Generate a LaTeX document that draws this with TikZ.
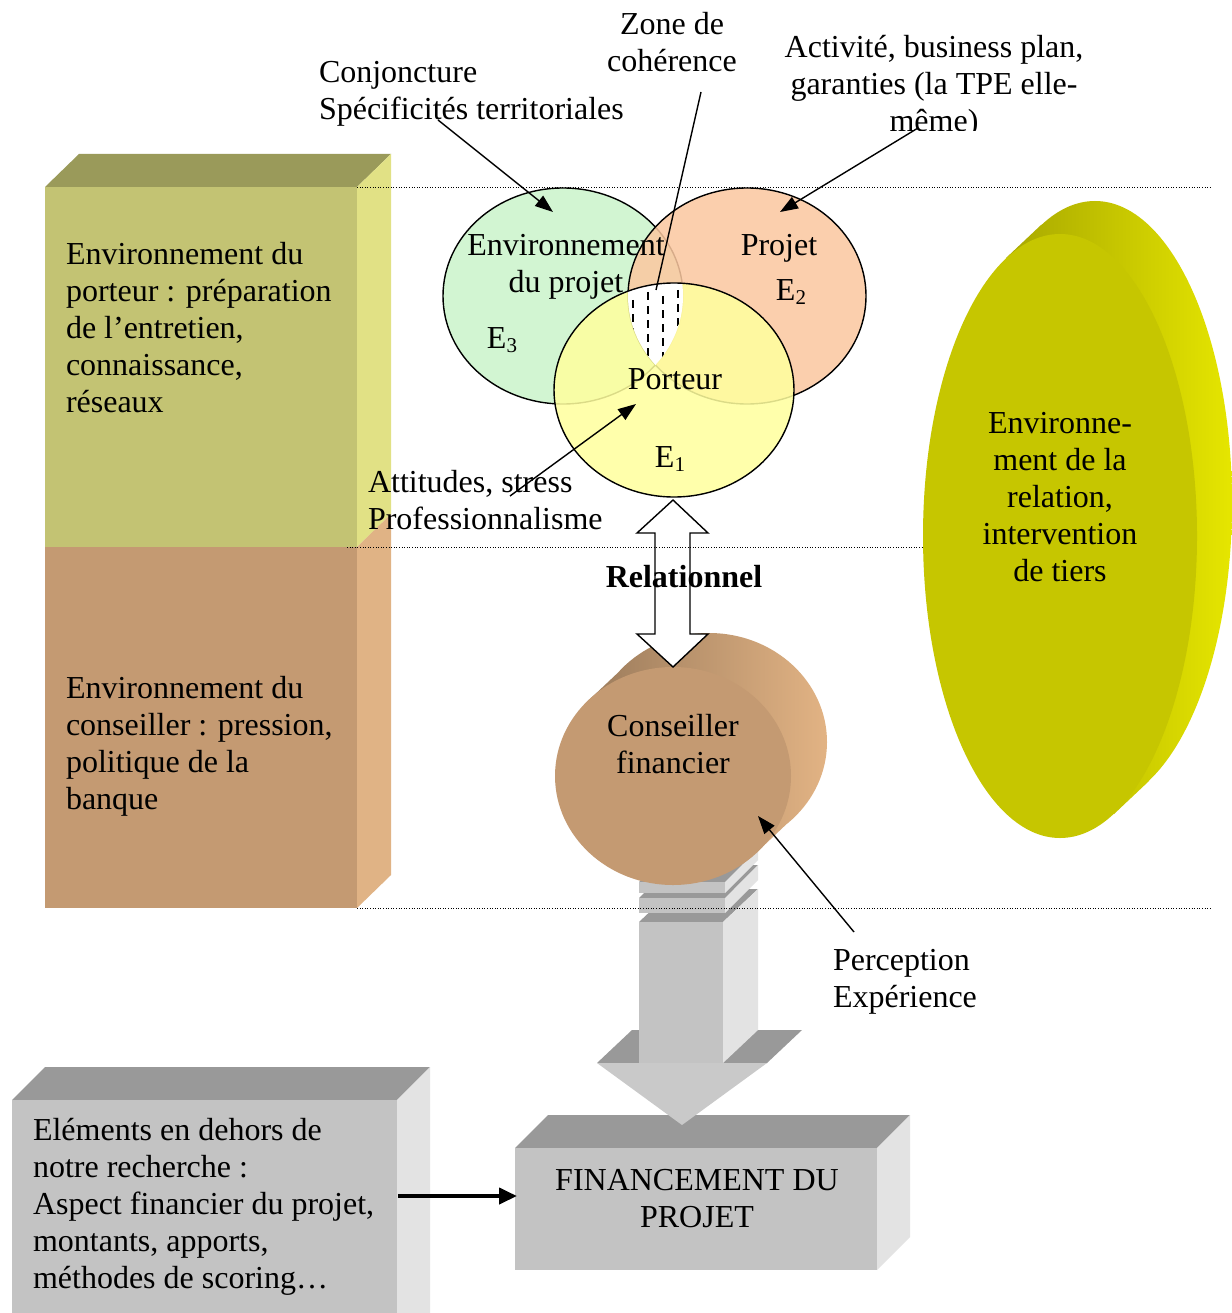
\documentclass[tikz,border=0pt]{standalone}
\usepackage{fontspec}
\setmainfont{Liberation Serif}
\usetikzlibrary{arrows.meta}
\definecolor{grnfront}{HTML}{C3C373}
\definecolor{grntop}{HTML}{9A9A5A}
\definecolor{grnside}{HTML}{E1E185}
\definecolor{brnfront}{HTML}{C49A72}
\definecolor{brnside}{HTML}{E0B385}
\definecolor{gryfront}{HTML}{C3C3C3}
\definecolor{grytop}{HTML}{999999}
\definecolor{gryside}{HTML}{E3E3E3}
\definecolor{vgreen}{HTML}{D2F5D2}
\definecolor{vorange}{HTML}{FBC8A0}
\definecolor{vyellow}{HTML}{FFFF9E}
\definecolor{ylwfront}{HTML}{C6C600}
\definecolor{ylwdark}{HTML}{9A9A00}
\definecolor{ylwlight}{HTML}{E6E600}
\definecolor{cyldark}{HTML}{9C7C5C}
\definecolor{cyllight}{HTML}{E2B384}
\newcommand{\subidx}[1]{\raisebox{-4pt}{\fontsize{21}{21}\selectfont #1}}
\begin{document}
\begin{tikzpicture}[x=1pt,y=-1pt,
  txt/.style={font=\fontsize{32}{37}\selectfont, inner sep=0pt, outer sep=0pt},
  ann/.style={line width=1.4pt, -{Triangle[length=18pt,width=13pt]}},
  plainline/.style={line width=1.4pt},
  dots/.style={line width=0.9pt, dash pattern=on 1pt off 1.6pt},
  vennline/.style={line width=1.4pt}
]
\useasboundingbox (0,0) rectangle (1231,1313);
\fill[white] (0,0) rectangle (1231,1313);

% ---------- left stacked boxes ----------
\fill[grntop] (45,187) -- (357,187) -- (391,154) -- (79,154) -- cycle;
\fill[grnside] (357,187) -- (391,154) -- (391,514) -- (357,547) -- cycle;
\fill[grnfront] (45,187) rectangle (357,547);
\fill[brnside] (357,547) -- (391,514) -- (391,875) -- (357,908) -- cycle;
\fill[brnfront] (45,547) rectangle (357,908);
\node[txt, anchor=north west, align=left] (porteurenv) at (66,242)
  {Environnement du\\porteur : préparation\\de l’entretien,\\connaissance,\\réseaux};
\node[txt, anchor=north west, align=left] (conseillerenv) at (66,676)
  {Environnement du\\conseiller : pression,\\politique de la\\banque};

% ---------- right disk ----------
\shade[left color=ylwdark, right color=ylwlight]
  (1095,503) ellipse [x radius=137pt, y radius=302pt]
  (1114,814) -- (1149,781) -- (1041,225) -- (1006,258) -- cycle;
\fill[ylwfront] (1060,536) ellipse [x radius=137pt, y radius=302pt];
\node[txt, anchor=north, align=center] (relenv) at (1060,412)
  {Environne-\\ment de la\\relation,\\intervention\\de tiers};

% ---------- Venn diagram ----------
\fill[vgreen] (563,296) ellipse [x radius=120pt, y radius=108pt];
\draw[vennline] (563,296) ellipse [x radius=120pt, y radius=108pt];
\fill[vorange, fill opacity=0.86] (747,296) ellipse [x radius=119pt, y radius=108pt];
\draw[vennline] (747,296) ellipse [x radius=119pt, y radius=108pt];
\fill[vyellow, fill opacity=0.86] (674,390) ellipse [x radius=120pt, y radius=107pt];
\begin{scope}
  \clip (563,296) ellipse [x radius=120pt, y radius=108pt];
  \clip (747,296) ellipse [x radius=119pt, y radius=108pt];
  \clip (674,390) ellipse [x radius=120pt, y radius=107pt];
  \fill[white] (600,270) rectangle (720,380);
  \foreach \xx/\yy in {633/300,648/292,663/296,678/290}
    \draw[line width=2pt, dash pattern=on 8pt off 6pt] (\xx,\yy) -- (\xx,372);
\end{scope}
\draw[vennline] (674,390) ellipse [x radius=120pt, y radius=107pt];

\node[txt, anchor=north, align=center] (envproj) at (566,234) {Environnement\\du projet};
\node[txt, anchor=base] (projet) at (779,256) {Projet};
\node[txt, anchor=base] (e2) at (791,301) {E\subidx{2}};
\node[txt, anchor=base] (e3) at (502,348) {E\subidx{3}};
\node[txt, anchor=base] (porteur) at (675,389) {Porteur};
\node[txt, anchor=base] (e1) at (670,467) {E\subidx{1}};

% ---------- bottom boxes ----------
\fill[grytop] (12,1100) -- (397,1100) -- (430,1067) -- (45,1067) -- cycle;
\fill[gryside] (397,1100) -- (430,1067) -- (430,1313) -- (397,1313) -- cycle;
\fill[gryfront] (12,1100) rectangle (397,1313);
\node[txt, anchor=north west, align=left] (elements) at (33,1118)
  {Eléments en dehors de\\notre recherche :\\Aspect financier du projet,\\montants, apports,\\méthodes de scoring…};

\fill[grytop] (515,1148) -- (877,1148) -- (910,1115) -- (548,1115) -- cycle;
\fill[gryside] (877,1148) -- (910,1115) -- (910,1237) -- (877,1270) -- cycle;
\fill[gryfront] (515,1148) rectangle (877,1270);
\node[txt, anchor=north, align=center] (financement) at (697,1169) {FINANCEMENT DU\\PROJET};

% ---------- 3D down arrow ----------
\fill[grytop] (597,1063) -- (767,1063) -- (802,1030) -- (632,1030) -- cycle;
\fill[grytop] (639,922) -- (723,922) -- (758,889) -- (674,889) -- cycle;
\fill[gryside] (723,922) -- (758,889) -- (758,1030) -- (723,1063) -- cycle;
\fill[gryfront] (639,922) rectangle (723,1063);
\fill[grytop] (639,898) -- (725,898) -- (758,865) -- (672,865) -- cycle;
\fill[gryside] (725,898) -- (758,865) -- (758,880) -- (725,913) -- cycle;
\fill[gryfront] (639,898) rectangle (725,913);
\fill[grytop] (639,882) -- (725,882) -- (758,849) -- (672,849) -- cycle;
\fill[gryside] (725,882) -- (758,849) -- (758,860) -- (725,893) -- cycle;
\fill[gryfront] (639,882) rectangle (725,893);
\fill[gryfront!90!white] (597,1063) -- (767,1063) -- (682,1125) -- cycle;

% ---------- cylinder (conseiller) ----------
\shade[left color=cyldark, right color=cyllight]
  (709,742) ellipse [x radius=118pt, y radius=109pt]
  (757,852) -- (793,818) -- (625,666) -- (589,700) -- cycle;
\fill[brnfront] (673,776) ellipse [x radius=118pt, y radius=109pt];
\node[txt, anchor=north, align=center] (conseiller) at (673,714) {Conseiller\\financier};

% ---------- relational double arrow ----------
\draw[line width=1.4pt, fill=white]
  (673,500) -- (708,533) -- (690,533) -- (690,634) -- (708,634) -- (673,667)
  -- (637,634) -- (655,634) -- (655,533) -- (637,533) -- cycle;
\node[txt, anchor=base, font=\fontsize{32}{37}\selectfont\bfseries] (relationnel) at (684,587) {Relationnel};

% ---------- dotted guide lines ----------
\coordinate (d1a) at (357,187); \coordinate (d1b) at (1210,187);
\coordinate (d2a) at (347,547); \coordinate (d2b) at (922,547);
\coordinate (d3a) at (357,908); \coordinate (d3b) at (1210,908);
\draw[dots] (d1a) -- (d1b);
\draw[dots] (d2a) -- (d2b);
\draw[dots] (d3a) -- (d3b);

% ---------- annotations ----------
\node[txt, anchor=north west, align=left] (conj) at (319,61) {Conjoncture\\Spécificités territoriales};
\node[txt, anchor=north, align=center] (zone) at (672,12) {Zone de\\cohérence};
\begin{scope}
  \clip (700,0) rectangle (1231,131);
  \node[txt, anchor=north, align=center] (activite) at (934,35) {Activité, business plan,\\garanties (la TPE elle-\\même)};
\end{scope}
\node[txt, anchor=north west, align=left] (attitudes) at (368,470) {Attitudes, stress\\Professionnalisme};
\node[txt, anchor=north west, align=left] (perception) at (833,949) {Perception\\Expérience};

\coordinate (conjA) at (438,120); \coordinate (conjB) at (553,212);
\coordinate (zoneA) at (701,92);  \coordinate (zoneB) at (656,290);
\coordinate (actA) at (918,128);  \coordinate (actB) at (780,212);
\coordinate (attA) at (510,496);  \coordinate (attB) at (636,404);
\coordinate (perA) at (854,932);  \coordinate (perB) at (758,816);
\coordinate (elA) at (398,1196);  \coordinate (elB) at (517,1196);

\draw[ann] (conjA) -- (conjB);
\draw[plainline] (zoneA) -- (zoneB);
\draw[ann] (actA) -- (actB);
\draw[ann] (attA) -- (attB);
\draw[ann] (perA) -- (perB);
\draw[line width=4pt, -{Triangle[length=18pt,width=16pt]}] (elA) -- (elB);
\end{tikzpicture}
\end{document}
